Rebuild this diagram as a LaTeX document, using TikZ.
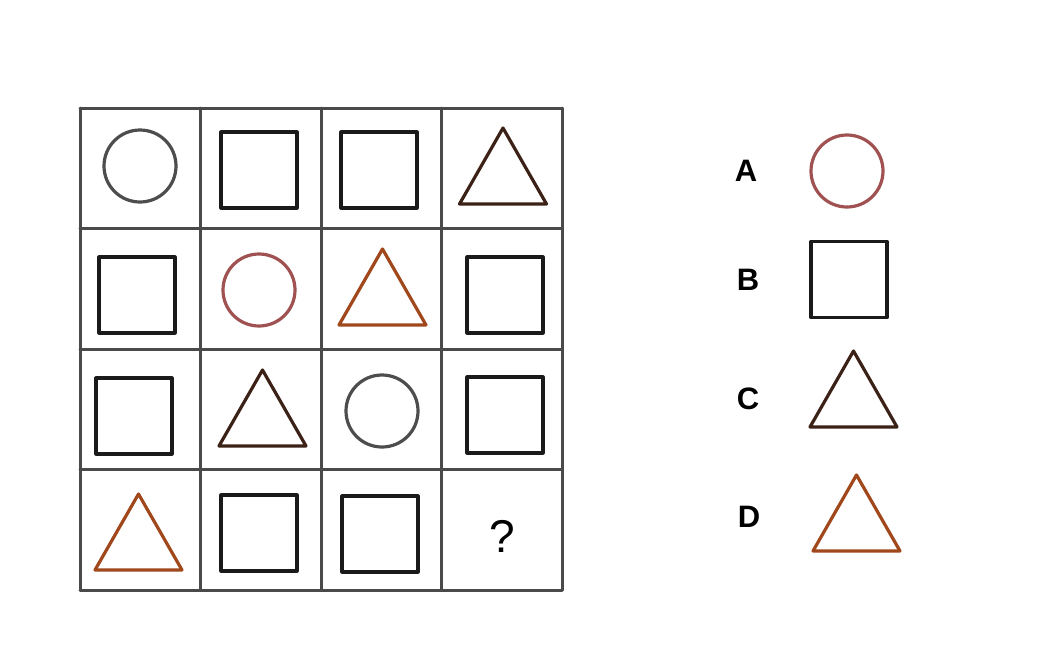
\documentclass[tikz,border=0pt]{standalone}
\usepackage{fontspec}
\setmainfont{Liberation Sans}
\usetikzlibrary{positioning}
\definecolor{gridgray}{HTML}{4A4A4A}
\definecolor{ringgray}{HTML}{4D4D4D}
\definecolor{ringred}{HTML}{A05252}
\definecolor{boxblack}{HTML}{1A1A1A}
\definecolor{tribrown}{HTML}{3B2116}
\definecolor{triorange}{HTML}{A0481C}

\tikzset{
  gridline/.style={line width=3pt, draw=gridgray, line cap=round},
  shapeline/.style={line width=3.2pt, line join=round},
  optlabel/.style={font=\bfseries\fontsize{31}{31}\selectfont, inner sep=0pt}
}
% square of side 76 around a centre
\newcommand{\boxat}[2]{\draw[shapeline, boxblack] (#1-38,#2-38) rectangle (#1+38,#2+38);}
% circle of radius 36
\newcommand{\ringat}[3]{\draw[shapeline, #3] (#1,#2) circle[radius=36];}
% triangle given apex x and base y
\newcommand{\triat}[3]{\draw[shapeline, #3] (#1,#2-76) -- (#1+43.5,#2) -- (#1-43.5,#2) -- cycle;}

\begin{document}
\begin{tikzpicture}[x=1pt, y=-1pt]
        \useasboundingbox[fill=white] (0,0) rectangle (1039,649);

        % Grid (4 x 4)
        \foreach \gx in {80, 200.5, 321, 441.5, 562} {
            \draw[gridline] (\gx,108) -- (\gx,590);
        }
        \foreach \gy in {108, 228.5, 349, 469.5, 590} {
            \draw[gridline] (80,\gy) -- (562,\gy);
        }

        % Row 1
        \ringat{140}{166}{ringgray}
        \boxat{259}{170}
        \boxat{379}{170}
        \triat{503}{204}{tribrown}

        % Row 2
        \boxat{137}{295}
        \ringat{259}{290}{ringred}
        \triat{382.5}{325}{triorange}
        \boxat{505}{295}

        % Row 3
        \boxat{134}{416}
        \triat{262.5}{446}{tribrown}
        \ringat{382}{411}{ringgray}
        \boxat{505}{415}

        % Row 4
        \triat{138.5}{570}{triorange}
        \boxat{259}{533}
        \boxat{380}{534}
        \node[font=\fontsize{46}{46}\selectfont, inner sep=0pt] (missing) at (502,536) {?};

        % Answer options
        \node[optlabel] (optA) at (746,171) {A};
        \ringat{847}{171}{ringred}

        \node[optlabel] (optB) at (748,280) {B};
        \boxat{849}{279.5}

        \node[optlabel] (optC) at (748,399) {C};
        \triat{853.5}{427}{tribrown}

        \node[optlabel] (optD) at (749,517) {D};
        \triat{856.5}{551}{triorange}
    \end{tikzpicture}
\end{document}
